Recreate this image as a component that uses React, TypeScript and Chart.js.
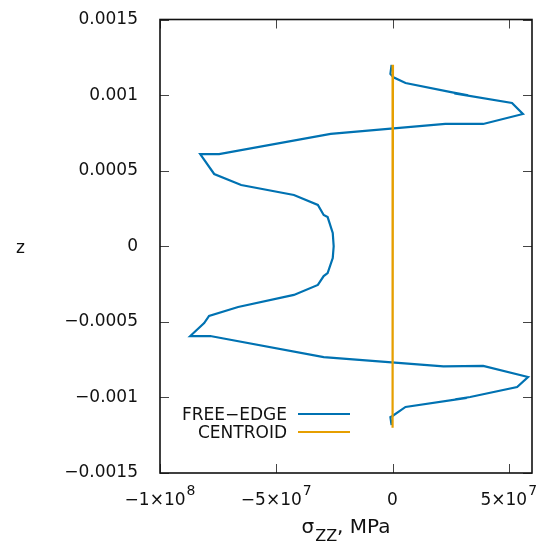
import React, { useEffect, useRef } from 'react';
import { Chart, registerables } from 'chart.js';

Chart.register(...registerables);

// ---- data (sigma_zz in MPa vs z) ----
const freeEdgeStress = [
  -4e5, -9e5, 4e5, 5.6e6, 2.57e7, 3.26e7, 2.66e7, 5.14e7, 5.61e7, 3.9e7, 2.27e7, -2.66e7,
  -7.46e7, -8.27e7, -7.67e7, -6.51e7, -4.24e7, -3.21e7, -2.96e7, -2.79e7, -2.57e7, -2.53e7,
  -2.57e7, -2.79e7, -2.96e7, -3.21e7, -4.24e7, -6.64e7, -7.89e7, -8.1e7, -8.7e7, -7.84e7,
  -2.96e7, 2.19e7, 3.9e7, 5.83e7, 5.36e7, 3.34e7, 2.7e7, 3.2e7, 5.6e6, 0, -9e5, -4e5,
];
const freeEdgeZ = [
  0.0012, 0.00114, 0.001118, 0.00108, 0.001018, 0.000998, 0.001011, 0.000948, 0.000875, 0.000809,
  0.000809, 0.000743, 0.00061, 0.00061, 0.000478, 0.000405, 0.000339, 0.000273, 0.000207,
  0.000193, 0.000088, 0, -0.000078, -0.000177, -0.000197, -0.000256, -0.000322, -0.000402,
  -0.000461, -0.000508, -0.000594, -0.000594, -0.000733, -0.000795, -0.000792, -0.000865,
  -0.000931, -0.000997, -0.001013, -0.001003, -0.001063, -0.001123, -0.00113, -0.001183,
];
const centroidStress = [2e5, 1e5, 0, 1e5, 0, -1e5, 0, 1e5, 1e5];
const centroidZ = [0.0012, 0.0009, 0.0006, 0.0003, 0, -0.0003, -0.0006, -0.0009, -0.0012];

const seriesNames = ['FREE\u2212EDGE', 'CENTROID'];
const seriesColors = ['#0072b2', '#e69f00'];

const xTickValues = [-1e8, -5e7, 0, 5e7];
const zTickValues = [-0.0015, -0.001, -0.0005, 0, 0.0005, 0.001, 0.0015];
const xRange = [-1e8, 6e7];
const zRange = [-0.0015, 0.0015];
const xTitleParts = ['\u03c3', 'ZZ', ', MPa'];
const zTitle = 'z';

const FONT = 'DejaVu Sans';

function toPoints(xs: number[], ys: number[]) {
  return xs.map((x, i) => ({ x, y: ys[i] }));
}

function fmtZ(v: number) {
  const s = parseFloat(v.toFixed(4)).toString();
  if (s === '-0') return '0';
  return s.replace('-', '\u2212');
}

const framePlugin = {
  id: 'frame',
  afterDraw(chart: any) {
    const { ctx, chartArea: a, scales } = chart;
    const xs = scales.x;
    const ys = scales.y;
    ctx.save();
    // inward ticks on all four sides
    ctx.strokeStyle = '#444';
    ctx.lineWidth = 1;
    ctx.beginPath();
    const tl = 9;
    for (const v of xTickValues) {
      const px = Math.round(xs.getPixelForValue(v)) + 0.5;
      ctx.moveTo(px, a.bottom);
      ctx.lineTo(px, a.bottom - tl);
      ctx.moveTo(px, a.top);
      ctx.lineTo(px, a.top + tl);
    }
    for (const v of zTickValues) {
      const py = Math.round(ys.getPixelForValue(v)) + 0.5;
      ctx.moveTo(a.left, py);
      ctx.lineTo(a.left + tl, py);
      ctx.moveTo(a.right, py);
      ctx.lineTo(a.right - tl, py);
    }
    ctx.stroke();
    // frame
    ctx.strokeStyle = '#111';
    ctx.lineWidth = 1.6;
    ctx.strokeRect(a.left, a.top, a.right - a.left, a.bottom - a.top);

    ctx.fillStyle = '#111';
    ctx.textBaseline = 'alphabetic';
    // x tick labels with superscript exponents
    const mainF = `17px "${FONT}"`;
    const supF = `14px "${FONT}"`;
    for (const v of xTickValues) {
      const px = xs.getPixelForValue(v);
      let main = '0';
      let sup = '';
      if (v !== 0) {
        const e = Math.floor(Math.log10(Math.abs(v)) + 1e-9);
        const m = Math.round(v / Math.pow(10, e));
        main = (m < 0 ? '\u2212' : '') + Math.abs(m) + '\u00d710';
        sup = String(e);
      }
      ctx.font = mainF;
      const wm = ctx.measureText(main).width;
      ctx.font = supF;
      const wsup = sup ? ctx.measureText(sup).width + 1 : 0;
      const x0 = px - (wm + wsup) / 2;
      ctx.textAlign = 'left';
      ctx.font = mainF;
      ctx.fillText(main, x0, a.bottom + 32);
      if (sup) {
        ctx.font = supF;
        ctx.fillText(sup, x0 + wm + 1, a.bottom + 22);
      }
    }
    // x title with subscript
    const tMain = `20px "${FONT}"`;
    const tSub = `16px "${FONT}"`;
    ctx.font = tMain;
    const w0 = ctx.measureText(xTitleParts[0]).width;
    const w2 = ctx.measureText(xTitleParts[2]).width;
    ctx.font = tSub;
    const w1 = ctx.measureText(xTitleParts[1]).width;
    const cx = (a.left + a.right) / 2;
    let tx = cx - (w0 + w1 + w2 + 1) / 2;
    const tb = a.bottom + 60;
    ctx.font = tMain;
    ctx.fillText(xTitleParts[0], tx, tb);
    tx += w0 + 1;
    ctx.font = tSub;
    ctx.fillText(xTitleParts[1], tx, tb + 8);
    tx += w1;
    ctx.font = tMain;
    ctx.fillText(xTitleParts[2], tx, tb);
    // y title
    ctx.font = `17px "${FONT}"`;
    ctx.textAlign = 'center';
    ctx.fillText(zTitle, 20.5, (a.top + a.bottom) / 2 + 7);

    // legend (inside, bottom-left)
    const legX = a.left + 127;
    const lineX0 = a.left + 138;
    const lineX1 = a.left + 190;
    const legY = [414, 432];
    ctx.font = `17px "${FONT}"`;
    ctx.textAlign = 'right';
    seriesNames.forEach((name, i) => {
      ctx.fillStyle = '#111';
      ctx.fillText(name, legX, legY[i] + 6);
      ctx.strokeStyle = seriesColors[i];
      ctx.lineWidth = 2;
      ctx.beginPath();
      ctx.moveTo(lineX0, legY[i]);
      ctx.lineTo(lineX1, legY[i]);
      ctx.stroke();
    });
    ctx.restore();
  },
};

export default function App() {
  const ref = useRef<HTMLCanvasElement | null>(null);
  useEffect(() => {
    if (!ref.current) return;
    const chart = new Chart(ref.current, {
      type: 'scatter',
      data: {
        datasets: [
          {
            label: seriesNames[0],
            data: toPoints(freeEdgeStress, freeEdgeZ),
            showLine: true,
            borderColor: seriesColors[0],
            backgroundColor: seriesColors[0],
            borderWidth: 2.2,
            pointRadius: 0,
            tension: 0,
            order: 1,
          },
          {
            label: seriesNames[1],
            data: toPoints(centroidStress, centroidZ),
            showLine: true,
            borderColor: seriesColors[1],
            backgroundColor: seriesColors[1],
            borderWidth: 2.2,
            pointRadius: 0,
            tension: 0,
            order: 0,
          },
        ],
      },
      options: {
        animation: false,
        responsive: true,
        maintainAspectRatio: false,
        devicePixelRatio: 1,
        layout: { padding: { top: 19.5, right: 8, left: 0, bottom: 0 } },
        plugins: {
          legend: { display: false },
          tooltip: { enabled: false },
          title: { display: false },
        },
        scales: {
          x: {
            type: 'linear',
            min: xRange[0],
            max: xRange[1],
            grid: { display: false, drawTicks: false },
            border: { display: false },
            ticks: { display: false },
            afterBuildTicks: (s: any) => {
              s.ticks = xTickValues.map((value) => ({ value }));
            },
            afterFit: (s: any) => {
              s.height = 71;
              s.paddingLeft = 0;
              s.paddingRight = 0;
            },
          },
          y: {
            type: 'linear',
            min: zRange[0],
            max: zRange[1],
            grid: { display: false, drawTicks: false },
            border: { display: false },
            ticks: {
              padding: 22,
              color: '#111',
              font: { family: FONT, size: 17 },
              callback: (v: any) => fmtZ(Number(v)),
            },
            afterBuildTicks: (s: any) => {
              s.ticks = zTickValues.map((value) => ({ value }));
            },
            afterFit: (s: any) => {
              s.width = 160;
              s.paddingTop = 0;
              s.paddingBottom = 0;
            },
          },
        },
      },
      plugins: [framePlugin],
    });
    return () => chart.destroy();
  }, []);
  return (
    <div style={{ position: 'absolute', left: 0, top: 0, width: 540, height: 544, background: '#fff' }}>
      <canvas ref={ref} />
    </div>
  );
}
